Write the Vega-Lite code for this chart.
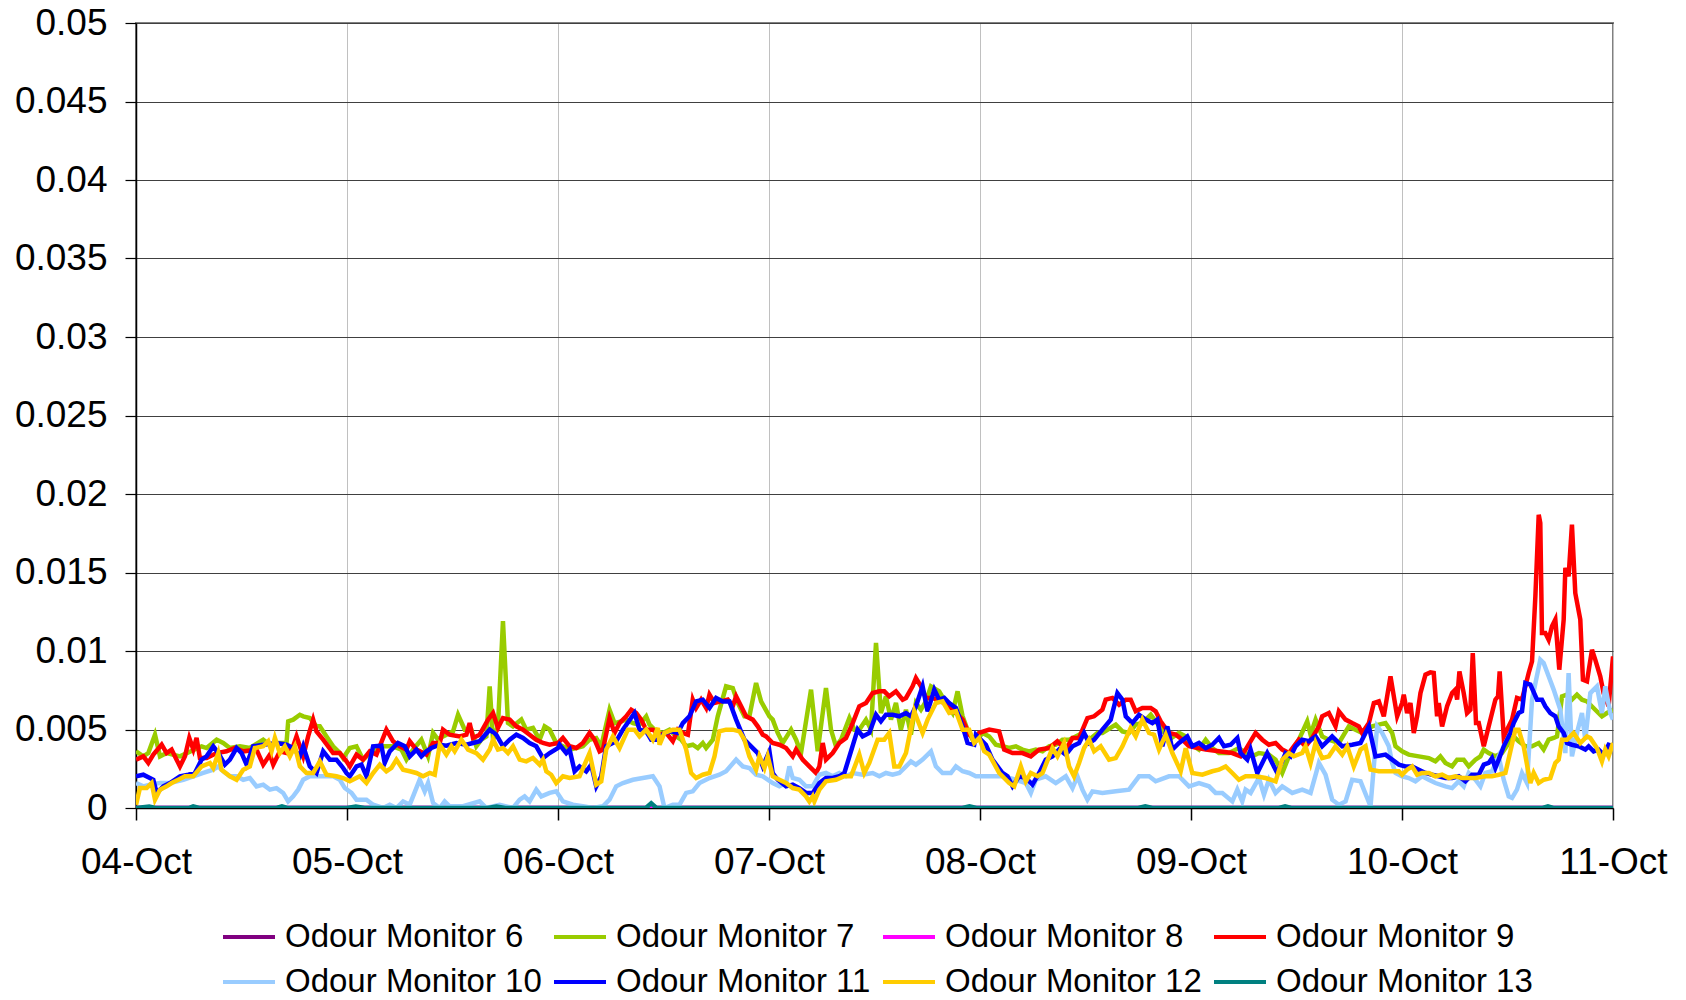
{
  "$schema": "https://vega.github.io/schema/vega-lite/v6.json",
  "width": 1477,
  "height": 785,
  "autosize": {"type": "none"},
  "padding": {"left": 136, "top": 23, "right": 73, "bottom": 192},
  "background": "white",
  "config": {"font": "Liberation Sans", "view": {"stroke": "#808080", "strokeWidth": 2}},
  "data": {"values": [
{"s":"Odour Monitor 6","h":0,"v":0},{"s":"Odour Monitor 6","h":168,"v":0},
{"s":"Odour Monitor 7","h":0,"v":0.00361},{"s":"Odour Monitor 7","h":0.83,"v":0.00329},{"s":"Odour Monitor 7","h":1.4,"v":0.0035},{"s":"Odour Monitor 7","h":2.16,"v":0.00467},{"s":"Odour Monitor 7","h":2.73,"v":0.00329},{"s":"Odour Monitor 7","h":3.48,"v":0.0035},{"s":"Odour Monitor 7","h":5,"v":0.00329},{"s":"Odour Monitor 7","h":7.46,"v":0.00393},{"s":"Odour Monitor 7","h":8.03,"v":0.00382},{"s":"Odour Monitor 7","h":9.17,"v":0.00435},{"s":"Odour Monitor 7","h":9.92,"v":0.00414},{"s":"Odour Monitor 7","h":10.68,"v":0.00382},{"s":"Odour Monitor 7","h":11.82,"v":0.00393},{"s":"Odour Monitor 7","h":12.95,"v":0.00382},{"s":"Odour Monitor 7","h":14.47,"v":0.00435},{"s":"Odour Monitor 7","h":15.23,"v":0.00403},{"s":"Odour Monitor 7","h":15.98,"v":0.00414},{"s":"Odour Monitor 7","h":17.12,"v":0.00414},{"s":"Odour Monitor 7","h":17.31,"v":0.00552},{"s":"Odour Monitor 7","h":17.88,"v":0.00563},{"s":"Odour Monitor 7","h":18.64,"v":0.00594},{"s":"Odour Monitor 7","h":19.02,"v":0.00584},{"s":"Odour Monitor 7","h":19.77,"v":0.00573},{"s":"Odour Monitor 7","h":20.53,"v":0.0052},{"s":"Odour Monitor 7","h":20.91,"v":0.0052},{"s":"Odour Monitor 7","h":21.67,"v":0.00456},{"s":"Odour Monitor 7","h":22.42,"v":0.00393},{"s":"Odour Monitor 7","h":23.18,"v":0.0035},{"s":"Odour Monitor 7","h":23.56,"v":0.00318},
{"s":"Odour Monitor 7","h":24.32,"v":0.00382},{"s":"Odour Monitor 7","h":25.08,"v":0.00393},{"s":"Odour Monitor 7","h":25.83,"v":0.00308},{"s":"Odour Monitor 7","h":26.59,"v":0.0035},{"s":"Odour Monitor 7","h":28.11,"v":0.00393},{"s":"Odour Monitor 7","h":29.24,"v":0.00393},{"s":"Odour Monitor 7","h":30.19,"v":0.00372},{"s":"Odour Monitor 7","h":30.76,"v":0.00308},{"s":"Odour Monitor 7","h":31.52,"v":0.00372},{"s":"Odour Monitor 7","h":32.46,"v":0.00435},{"s":"Odour Monitor 7","h":33.22,"v":0.00329},{"s":"Odour Monitor 7","h":33.79,"v":0.00478},{"s":"Odour Monitor 7","h":34.36,"v":0.00435},{"s":"Odour Monitor 7","h":34.92,"v":0.00456},{"s":"Odour Monitor 7","h":36.06,"v":0.00488},{"s":"Odour Monitor 7","h":36.63,"v":0.00594},{"s":"Odour Monitor 7","h":37.39,"v":0.00499},{"s":"Odour Monitor 7","h":38.14,"v":0.00499},{"s":"Odour Monitor 7","h":38.71,"v":0.00393},{"s":"Odour Monitor 7","h":39.28,"v":0.00435},{"s":"Odour Monitor 7","h":39.85,"v":0.00456},{"s":"Odour Monitor 7","h":40.23,"v":0.00775},{"s":"Odour Monitor 7","h":40.61,"v":0.00435},{"s":"Odour Monitor 7","h":41.17,"v":0.0052},{"s":"Odour Monitor 7","h":41.74,"v":0.0119},{"s":"Odour Monitor 7","h":42.31,"v":0.00541},{"s":"Odour Monitor 7","h":42.88,"v":0.0052},{"s":"Odour Monitor 7","h":43.83,"v":0.00563},{"s":"Odour Monitor 7","h":44.39,"v":0.00499},{"s":"Odour Monitor 7","h":45.15,"v":0.0051},{"s":"Odour Monitor 7","h":45.91,"v":0.00435},{"s":"Odour Monitor 7","h":46.48,"v":0.0052},{"s":"Odour Monitor 7","h":47.05,"v":0.00499},{"s":"Odour Monitor 7","h":47.8,"v":0.00414},
{"s":"Odour Monitor 7","h":48.56,"v":0.00393},{"s":"Odour Monitor 7","h":49.32,"v":0.00372},{"s":"Odour Monitor 7","h":50.08,"v":0.00382},{"s":"Odour Monitor 7","h":50.83,"v":0.00393},{"s":"Odour Monitor 7","h":51.59,"v":0.00435},{"s":"Odour Monitor 7","h":52.35,"v":0.00446},{"s":"Odour Monitor 7","h":52.92,"v":0.00393},{"s":"Odour Monitor 7","h":53.86,"v":0.00626},{"s":"Odour Monitor 7","h":54.43,"v":0.00541},{"s":"Odour Monitor 7","h":55.19,"v":0.00552},{"s":"Odour Monitor 7","h":55.76,"v":0.00563},{"s":"Odour Monitor 7","h":56.52,"v":0.00541},{"s":"Odour Monitor 7","h":57.27,"v":0.00531},{"s":"Odour Monitor 7","h":58.03,"v":0.00584},{"s":"Odour Monitor 7","h":58.41,"v":0.00531},{"s":"Odour Monitor 7","h":59.17,"v":0.00488},{"s":"Odour Monitor 7","h":59.92,"v":0.00478},{"s":"Odour Monitor 7","h":60.68,"v":0.00499},{"s":"Odour Monitor 7","h":61.44,"v":0.00456},{"s":"Odour Monitor 7","h":62.01,"v":0.00435},{"s":"Odour Monitor 7","h":62.58,"v":0.00393},{"s":"Odour Monitor 7","h":63.33,"v":0.00403},{"s":"Odour Monitor 7","h":63.9,"v":0.00382},{"s":"Odour Monitor 7","h":64.47,"v":0.00414},{"s":"Odour Monitor 7","h":64.85,"v":0.00382},{"s":"Odour Monitor 7","h":65.61,"v":0.00435},{"s":"Odour Monitor 7","h":66.17,"v":0.00584},{"s":"Odour Monitor 7","h":67.12,"v":0.00775},{"s":"Odour Monitor 7","h":67.88,"v":0.00764},{"s":"Odour Monitor 7","h":68.45,"v":0.00669},{"s":"Odour Monitor 7","h":69.2,"v":0.00584},{"s":"Odour Monitor 7","h":69.77,"v":0.00584},{"s":"Odour Monitor 7","h":70.53,"v":0.00796},{"s":"Odour Monitor 7","h":71.1,"v":0.00679},
{"s":"Odour Monitor 7","h":72.05,"v":0.00584},{"s":"Odour Monitor 7","h":72.42,"v":0.00563},{"s":"Odour Monitor 7","h":72.99,"v":0.00478},{"s":"Odour Monitor 7","h":73.56,"v":0.00414},{"s":"Odour Monitor 7","h":74.51,"v":0.00499},{"s":"Odour Monitor 7","h":75.08,"v":0.00435},{"s":"Odour Monitor 7","h":75.64,"v":0.0035},{"s":"Odour Monitor 7","h":76.78,"v":0.00754},{"s":"Odour Monitor 7","h":77.54,"v":0.00361},{"s":"Odour Monitor 7","h":78.48,"v":0.00764},{"s":"Odour Monitor 7","h":79.05,"v":0.00499},{"s":"Odour Monitor 7","h":79.62,"v":0.00393},{"s":"Odour Monitor 7","h":80.19,"v":0.00435},{"s":"Odour Monitor 7","h":81.14,"v":0.00573},{"s":"Odour Monitor 7","h":81.7,"v":0.00499},{"s":"Odour Monitor 7","h":82.27,"v":0.00499},{"s":"Odour Monitor 7","h":83.03,"v":0.00563},{"s":"Odour Monitor 7","h":83.6,"v":0.00499},{"s":"Odour Monitor 7","h":84.17,"v":0.01051},{"s":"Odour Monitor 7","h":84.73,"v":0.00605},{"s":"Odour Monitor 7","h":85.3,"v":0.00711},{"s":"Odour Monitor 7","h":85.87,"v":0.00563},{"s":"Odour Monitor 7","h":86.44,"v":0.00669},{"s":"Odour Monitor 7","h":87,"v":0.00499},{"s":"Odour Monitor 7","h":87.58,"v":0.00626},{"s":"Odour Monitor 7","h":88.14,"v":0.00467},{"s":"Odour Monitor 7","h":88.71,"v":0.00669},{"s":"Odour Monitor 7","h":89.28,"v":0.00626},{"s":"Odour Monitor 7","h":89.85,"v":0.00679},{"s":"Odour Monitor 7","h":90.42,"v":0.00775},{"s":"Odour Monitor 7","h":91.36,"v":0.00743},{"s":"Odour Monitor 7","h":92.12,"v":0.00669},{"s":"Odour Monitor 7","h":92.88,"v":0.00605},{"s":"Odour Monitor 7","h":93.45,"v":0.00743},{"s":"Odour Monitor 7","h":94.02,"v":0.00584},{"s":"Odour Monitor 7","h":94.58,"v":0.00499},{"s":"Odour Monitor 7","h":95.34,"v":0.00414},
{"s":"Odour Monitor 7","h":96.29,"v":0.00478},{"s":"Odour Monitor 7","h":97.05,"v":0.00456},{"s":"Odour Monitor 7","h":97.8,"v":0.00403},{"s":"Odour Monitor 7","h":98.56,"v":0.00393},{"s":"Odour Monitor 7","h":99.32,"v":0.00382},{"s":"Odour Monitor 7","h":100.08,"v":0.00393},{"s":"Odour Monitor 7","h":100.83,"v":0.00372},{"s":"Odour Monitor 7","h":101.59,"v":0.00361},{"s":"Odour Monitor 7","h":102.35,"v":0.00372},{"s":"Odour Monitor 7","h":103.11,"v":0.00361},{"s":"Odour Monitor 7","h":103.86,"v":0.00393},{"s":"Odour Monitor 7","h":104.62,"v":0.00403},{"s":"Odour Monitor 7","h":105.38,"v":0.00435},{"s":"Odour Monitor 7","h":106.14,"v":0.00435},{"s":"Odour Monitor 7","h":106.89,"v":0.00456},{"s":"Odour Monitor 7","h":107.65,"v":0.00478},{"s":"Odour Monitor 7","h":108.41,"v":0.00435},{"s":"Odour Monitor 7","h":109.36,"v":0.00478},{"s":"Odour Monitor 7","h":109.92,"v":0.00478},{"s":"Odour Monitor 7","h":111.44,"v":0.00531},{"s":"Odour Monitor 7","h":112.2,"v":0.00488},{"s":"Odour Monitor 7","h":112.95,"v":0.00478},{"s":"Odour Monitor 7","h":113.71,"v":0.00531},{"s":"Odour Monitor 7","h":114.47,"v":0.00541},{"s":"Odour Monitor 7","h":115.42,"v":0.00594},{"s":"Odour Monitor 7","h":115.98,"v":0.00552},{"s":"Odour Monitor 7","h":116.74,"v":0.00499},{"s":"Odour Monitor 7","h":117.5,"v":0.00435},{"s":"Odour Monitor 7","h":118.64,"v":0.00478},{"s":"Odour Monitor 7","h":119.39,"v":0.00456},
{"s":"Odour Monitor 7","h":119.77,"v":0.00414},{"s":"Odour Monitor 7","h":120.91,"v":0.00372},{"s":"Odour Monitor 7","h":121.67,"v":0.00435},{"s":"Odour Monitor 7","h":122.42,"v":0.00382},{"s":"Odour Monitor 7","h":123.18,"v":0.0035},{"s":"Odour Monitor 7","h":124.32,"v":0.0035},{"s":"Odour Monitor 7","h":125.45,"v":0.00382},{"s":"Odour Monitor 7","h":126.21,"v":0.0035},{"s":"Odour Monitor 7","h":126.97,"v":0.00329},{"s":"Odour Monitor 7","h":127.73,"v":0.0035},{"s":"Odour Monitor 7","h":128.86,"v":0.0034},{"s":"Odour Monitor 7","h":129.62,"v":0.00308},{"s":"Odour Monitor 7","h":130.38,"v":0.00223},{"s":"Odour Monitor 7","h":131.14,"v":0.00329},{"s":"Odour Monitor 7","h":132.27,"v":0.00435},{"s":"Odour Monitor 7","h":133.22,"v":0.00552},{"s":"Odour Monitor 7","h":133.6,"v":0.00467},{"s":"Odour Monitor 7","h":134.17,"v":0.00563},{"s":"Odour Monitor 7","h":134.92,"v":0.00456},{"s":"Odour Monitor 7","h":135.68,"v":0.00435},{"s":"Odour Monitor 7","h":136.82,"v":0.00414},{"s":"Odour Monitor 7","h":137.95,"v":0.0052},{"s":"Odour Monitor 7","h":138.71,"v":0.00499},{"s":"Odour Monitor 7","h":139.47,"v":0.00478},{"s":"Odour Monitor 7","h":140.61,"v":0.0052},{"s":"Odour Monitor 7","h":141.36,"v":0.00531},{"s":"Odour Monitor 7","h":142.12,"v":0.00541},{"s":"Odour Monitor 7","h":142.88,"v":0.00478},
{"s":"Odour Monitor 7","h":143.26,"v":0.00393},{"s":"Odour Monitor 7","h":144.01,"v":0.00361},{"s":"Odour Monitor 7","h":144.77,"v":0.0034},{"s":"Odour Monitor 7","h":145.91,"v":0.00329},{"s":"Odour Monitor 7","h":147.05,"v":0.00318},{"s":"Odour Monitor 7","h":147.8,"v":0.00297},{"s":"Odour Monitor 7","h":148.37,"v":0.00329},{"s":"Odour Monitor 7","h":148.94,"v":0.00287},{"s":"Odour Monitor 7","h":149.7,"v":0.00265},{"s":"Odour Monitor 7","h":150.27,"v":0.00308},{"s":"Odour Monitor 7","h":151.02,"v":0.00308},{"s":"Odour Monitor 7","h":151.59,"v":0.00265},{"s":"Odour Monitor 7","h":152.35,"v":0.00308},{"s":"Odour Monitor 7","h":152.92,"v":0.00329},{"s":"Odour Monitor 7","h":153.3,"v":0.00372},{"s":"Odour Monitor 7","h":153.86,"v":0.0035},{"s":"Odour Monitor 7","h":154.62,"v":0.00329},{"s":"Odour Monitor 7","h":155.38,"v":0.0035},{"s":"Odour Monitor 7","h":156.14,"v":0.00414},{"s":"Odour Monitor 7","h":156.7,"v":0.00456},{"s":"Odour Monitor 7","h":157.27,"v":0.00425},{"s":"Odour Monitor 7","h":158.03,"v":0.00393},{"s":"Odour Monitor 7","h":158.79,"v":0.00393},{"s":"Odour Monitor 7","h":159.55,"v":0.00414},{"s":"Odour Monitor 7","h":160.11,"v":0.00372},{"s":"Odour Monitor 7","h":160.68,"v":0.00435},{"s":"Odour Monitor 7","h":161.25,"v":0.00446},{"s":"Odour Monitor 7","h":161.63,"v":0.00456},{"s":"Odour Monitor 7","h":162.2,"v":0.00711},{"s":"Odour Monitor 7","h":162.77,"v":0.00722},{"s":"Odour Monitor 7","h":163.33,"v":0.0069},{"s":"Odour Monitor 7","h":163.9,"v":0.00722},{"s":"Odour Monitor 7","h":164.47,"v":0.0069},{"s":"Odour Monitor 7","h":165.04,"v":0.00679},{"s":"Odour Monitor 7","h":165.98,"v":0.00626},{"s":"Odour Monitor 7","h":166.74,"v":0.00584},{"s":"Odour Monitor 7","h":167.31,"v":0.00605},{"s":"Odour Monitor 7","h":168,"v":0.00626},
{"s":"Odour Monitor 8","h":0,"v":0},{"s":"Odour Monitor 8","h":168,"v":0},
{"s":"Odour Monitor 9","h":0,"v":0.00308},{"s":"Odour Monitor 9","h":0.83,"v":0.00329},{"s":"Odour Monitor 9","h":1.4,"v":0.00287},{"s":"Odour Monitor 9","h":1.97,"v":0.0034},{"s":"Odour Monitor 9","h":2.92,"v":0.00403},{"s":"Odour Monitor 9","h":3.48,"v":0.0035},{"s":"Odour Monitor 9","h":4.05,"v":0.00372},{"s":"Odour Monitor 9","h":4.62,"v":0.00308},{"s":"Odour Monitor 9","h":5,"v":0.00265},{"s":"Odour Monitor 9","h":5.57,"v":0.00329},{"s":"Odour Monitor 9","h":6.06,"v":0.00446},{"s":"Odour Monitor 9","h":6.52,"v":0.00372},{"s":"Odour Monitor 9","h":6.89,"v":0.00446},{"s":"Odour Monitor 9","h":7.27,"v":0.00318},{"s":"Odour Monitor 9","h":8.03,"v":0.00318},{"s":"Odour Monitor 9","h":9.17,"v":0.0035},{"s":"Odour Monitor 9","h":10.3,"v":0.00361},{"s":"Odour Monitor 9","h":11.25,"v":0.00382},{"s":"Odour Monitor 9","h":12.2,"v":0.00361},{"s":"Odour Monitor 9","h":13.71,"v":0.00372},{"s":"Odour Monitor 9","h":14.47,"v":0.00276},{"s":"Odour Monitor 9","h":15.23,"v":0.0034},{"s":"Odour Monitor 9","h":15.61,"v":0.00276},{"s":"Odour Monitor 9","h":16.36,"v":0.00361},{"s":"Odour Monitor 9","h":17.12,"v":0.0035},{"s":"Odour Monitor 9","h":17.88,"v":0.00393},{"s":"Odour Monitor 9","h":18.26,"v":0.00456},{"s":"Odour Monitor 9","h":19.02,"v":0.00329},{"s":"Odour Monitor 9","h":19.58,"v":0.00456},{"s":"Odour Monitor 9","h":20.15,"v":0.00563},{"s":"Odour Monitor 9","h":20.53,"v":0.00488},{"s":"Odour Monitor 9","h":21.29,"v":0.00435},{"s":"Odour Monitor 9","h":22.42,"v":0.0035},{"s":"Odour Monitor 9","h":23.18,"v":0.0035},{"s":"Odour Monitor 9","h":23.94,"v":0.00297},
{"s":"Odour Monitor 9","h":24.32,"v":0.00265},{"s":"Odour Monitor 9","h":25.08,"v":0.0034},{"s":"Odour Monitor 9","h":25.83,"v":0.00308},{"s":"Odour Monitor 9","h":26.59,"v":0.00361},{"s":"Odour Monitor 9","h":27.35,"v":0.0034},{"s":"Odour Monitor 9","h":28.48,"v":0.00499},{"s":"Odour Monitor 9","h":29.24,"v":0.00425},{"s":"Odour Monitor 9","h":30,"v":0.00393},{"s":"Odour Monitor 9","h":30.76,"v":0.00372},{"s":"Odour Monitor 9","h":31.14,"v":0.00425},{"s":"Odour Monitor 9","h":31.89,"v":0.00372},{"s":"Odour Monitor 9","h":33.03,"v":0.0034},{"s":"Odour Monitor 9","h":33.79,"v":0.00414},{"s":"Odour Monitor 9","h":34.55,"v":0.00414},{"s":"Odour Monitor 9","h":34.92,"v":0.00499},{"s":"Odour Monitor 9","h":35.68,"v":0.00467},{"s":"Odour Monitor 9","h":36.82,"v":0.00456},{"s":"Odour Monitor 9","h":37.58,"v":0.00467},{"s":"Odour Monitor 9","h":37.95,"v":0.00541},{"s":"Odour Monitor 9","h":38.33,"v":0.00446},{"s":"Odour Monitor 9","h":39.09,"v":0.00467},{"s":"Odour Monitor 9","h":40.04,"v":0.00563},{"s":"Odour Monitor 9","h":40.61,"v":0.00605},{"s":"Odour Monitor 9","h":41.17,"v":0.0051},{"s":"Odour Monitor 9","h":41.74,"v":0.00573},{"s":"Odour Monitor 9","h":42.5,"v":0.00563},{"s":"Odour Monitor 9","h":43.26,"v":0.0052},{"s":"Odour Monitor 9","h":44.02,"v":0.00499},{"s":"Odour Monitor 9","h":44.77,"v":0.00467},{"s":"Odour Monitor 9","h":45.53,"v":0.00435},{"s":"Odour Monitor 9","h":46.29,"v":0.00414},{"s":"Odour Monitor 9","h":47.05,"v":0.00403},{"s":"Odour Monitor 9","h":48,"v":0.00414},
{"s":"Odour Monitor 9","h":48.56,"v":0.00446},{"s":"Odour Monitor 9","h":49.32,"v":0.00393},{"s":"Odour Monitor 9","h":50.08,"v":0.00382},{"s":"Odour Monitor 9","h":50.83,"v":0.00414},{"s":"Odour Monitor 9","h":51.59,"v":0.00478},{"s":"Odour Monitor 9","h":52.16,"v":0.00435},{"s":"Odour Monitor 9","h":52.73,"v":0.00361},{"s":"Odour Monitor 9","h":53.11,"v":0.00372},{"s":"Odour Monitor 9","h":53.86,"v":0.00573},{"s":"Odour Monitor 9","h":54.43,"v":0.00478},{"s":"Odour Monitor 9","h":55,"v":0.00541},{"s":"Odour Monitor 9","h":55.76,"v":0.00584},{"s":"Odour Monitor 9","h":56.33,"v":0.00626},{"s":"Odour Monitor 9","h":56.89,"v":0.00605},{"s":"Odour Monitor 9","h":57.46,"v":0.00563},{"s":"Odour Monitor 9","h":58.03,"v":0.00499},{"s":"Odour Monitor 9","h":58.79,"v":0.00499},{"s":"Odour Monitor 9","h":59.55,"v":0.00467},{"s":"Odour Monitor 9","h":60.3,"v":0.00478},{"s":"Odour Monitor 9","h":61.06,"v":0.00425},{"s":"Odour Monitor 9","h":61.63,"v":0.00499},{"s":"Odour Monitor 9","h":62.2,"v":0.00478},{"s":"Odour Monitor 9","h":62.77,"v":0.00467},{"s":"Odour Monitor 9","h":63.33,"v":0.0069},{"s":"Odour Monitor 9","h":63.71,"v":0.00637},{"s":"Odour Monitor 9","h":64.28,"v":0.0069},{"s":"Odour Monitor 9","h":64.85,"v":0.00637},{"s":"Odour Monitor 9","h":65.23,"v":0.00722},{"s":"Odour Monitor 9","h":65.8,"v":0.00669},{"s":"Odour Monitor 9","h":66.55,"v":0.00679},{"s":"Odour Monitor 9","h":67.31,"v":0.0069},{"s":"Odour Monitor 9","h":67.88,"v":0.00648},{"s":"Odour Monitor 9","h":68.26,"v":0.00711},{"s":"Odour Monitor 9","h":68.83,"v":0.00648},{"s":"Odour Monitor 9","h":69.39,"v":0.00584},{"s":"Odour Monitor 9","h":70.15,"v":0.00563},{"s":"Odour Monitor 9","h":70.72,"v":0.0052},{"s":"Odour Monitor 9","h":71.29,"v":0.00467},
{"s":"Odour Monitor 9","h":71.67,"v":0.00456},{"s":"Odour Monitor 9","h":72.42,"v":0.00414},{"s":"Odour Monitor 9","h":73.18,"v":0.00403},{"s":"Odour Monitor 9","h":73.94,"v":0.00382},{"s":"Odour Monitor 9","h":74.7,"v":0.00329},{"s":"Odour Monitor 9","h":75.08,"v":0.00372},{"s":"Odour Monitor 9","h":75.83,"v":0.00308},{"s":"Odour Monitor 9","h":76.59,"v":0.00265},{"s":"Odour Monitor 9","h":77.35,"v":0.00223},{"s":"Odour Monitor 9","h":77.73,"v":0.00265},{"s":"Odour Monitor 9","h":78.11,"v":0.00414},{"s":"Odour Monitor 9","h":78.48,"v":0.00308},{"s":"Odour Monitor 9","h":79.24,"v":0.0035},{"s":"Odour Monitor 9","h":80,"v":0.00414},{"s":"Odour Monitor 9","h":80.76,"v":0.00446},{"s":"Odour Monitor 9","h":81.52,"v":0.00541},{"s":"Odour Monitor 9","h":82.27,"v":0.00648},{"s":"Odour Monitor 9","h":83.03,"v":0.00669},{"s":"Odour Monitor 9","h":83.79,"v":0.00732},{"s":"Odour Monitor 9","h":84.55,"v":0.00743},{"s":"Odour Monitor 9","h":85.11,"v":0.00743},{"s":"Odour Monitor 9","h":85.68,"v":0.00711},{"s":"Odour Monitor 9","h":86.44,"v":0.00743},{"s":"Odour Monitor 9","h":87.2,"v":0.0069},{"s":"Odour Monitor 9","h":87.58,"v":0.00701},{"s":"Odour Monitor 9","h":88.33,"v":0.00775},{"s":"Odour Monitor 9","h":88.71,"v":0.00828},{"s":"Odour Monitor 9","h":89.28,"v":0.00775},{"s":"Odour Monitor 9","h":89.85,"v":0.00701},{"s":"Odour Monitor 9","h":90.61,"v":0.00701},{"s":"Odour Monitor 9","h":91.55,"v":0.00679},{"s":"Odour Monitor 9","h":92.5,"v":0.00648},{"s":"Odour Monitor 9","h":93.26,"v":0.00605},{"s":"Odour Monitor 9","h":94.02,"v":0.00563},{"s":"Odour Monitor 9","h":94.77,"v":0.00467},{"s":"Odour Monitor 9","h":95.53,"v":0.00435},
{"s":"Odour Monitor 9","h":95.9,"v":0.00478},{"s":"Odour Monitor 9","h":97.05,"v":0.00499},{"s":"Odour Monitor 9","h":98.18,"v":0.00488},{"s":"Odour Monitor 9","h":98.75,"v":0.00372},{"s":"Odour Monitor 9","h":99.7,"v":0.0035},{"s":"Odour Monitor 9","h":100.83,"v":0.0035},{"s":"Odour Monitor 9","h":101.78,"v":0.00329},{"s":"Odour Monitor 9","h":102.73,"v":0.00372},{"s":"Odour Monitor 9","h":103.86,"v":0.00382},{"s":"Odour Monitor 9","h":104.8,"v":0.00425},{"s":"Odour Monitor 9","h":105.76,"v":0.00372},{"s":"Odour Monitor 9","h":106.52,"v":0.00446},{"s":"Odour Monitor 9","h":107.27,"v":0.00446},{"s":"Odour Monitor 9","h":108.22,"v":0.00573},{"s":"Odour Monitor 9","h":108.98,"v":0.00584},{"s":"Odour Monitor 9","h":109.92,"v":0.00626},{"s":"Odour Monitor 9","h":110.3,"v":0.0069},{"s":"Odour Monitor 9","h":111.06,"v":0.00701},{"s":"Odour Monitor 9","h":111.82,"v":0.00658},{"s":"Odour Monitor 9","h":112.58,"v":0.0069},{"s":"Odour Monitor 9","h":113.14,"v":0.0069},{"s":"Odour Monitor 9","h":113.71,"v":0.00616},{"s":"Odour Monitor 9","h":114.47,"v":0.00637},{"s":"Odour Monitor 9","h":115.42,"v":0.00637},{"s":"Odour Monitor 9","h":115.98,"v":0.00616},{"s":"Odour Monitor 9","h":116.55,"v":0.00552},{"s":"Odour Monitor 9","h":117.5,"v":0.00478},{"s":"Odour Monitor 9","h":118.26,"v":0.00467},{"s":"Odour Monitor 9","h":119.02,"v":0.00435},{"s":"Odour Monitor 9","h":119.77,"v":0.00393},
{"s":"Odour Monitor 9","h":121.67,"v":0.00372},{"s":"Odour Monitor 9","h":123.18,"v":0.00361},{"s":"Odour Monitor 9","h":124.7,"v":0.0035},{"s":"Odour Monitor 9","h":125.64,"v":0.00329},{"s":"Odour Monitor 9","h":126.21,"v":0.00372},{"s":"Odour Monitor 9","h":127.35,"v":0.00478},{"s":"Odour Monitor 9","h":128.11,"v":0.00435},{"s":"Odour Monitor 9","h":128.86,"v":0.00403},{"s":"Odour Monitor 9","h":129.62,"v":0.00414},{"s":"Odour Monitor 9","h":130.38,"v":0.00372},{"s":"Odour Monitor 9","h":131.14,"v":0.0035},{"s":"Odour Monitor 9","h":131.7,"v":0.00393},{"s":"Odour Monitor 9","h":132.27,"v":0.00435},{"s":"Odour Monitor 9","h":133.03,"v":0.00393},{"s":"Odour Monitor 9","h":133.79,"v":0.00446},{"s":"Odour Monitor 9","h":134.55,"v":0.0052},{"s":"Odour Monitor 9","h":134.92,"v":0.00584},{"s":"Odour Monitor 9","h":135.68,"v":0.00605},{"s":"Odour Monitor 9","h":136.44,"v":0.0052},{"s":"Odour Monitor 9","h":136.82,"v":0.00616},{"s":"Odour Monitor 9","h":137.58,"v":0.00563},{"s":"Odour Monitor 9","h":138.33,"v":0.00541},{"s":"Odour Monitor 9","h":139.09,"v":0.0052},{"s":"Odour Monitor 9","h":139.47,"v":0.00478},{"s":"Odour Monitor 9","h":140.23,"v":0.00541},{"s":"Odour Monitor 9","h":140.8,"v":0.00669},{"s":"Odour Monitor 9","h":141.36,"v":0.00679},{"s":"Odour Monitor 9","h":141.93,"v":0.00584},{"s":"Odour Monitor 9","h":142.69,"v":0.00839},{"s":"Odour Monitor 9","h":143.45,"v":0.00584},
{"s":"Odour Monitor 9","h":144.01,"v":0.00669},{"s":"Odour Monitor 9","h":144.2,"v":0.00722},{"s":"Odour Monitor 9","h":144.58,"v":0.00605},{"s":"Odour Monitor 9","h":144.96,"v":0.00669},{"s":"Odour Monitor 9","h":145.34,"v":0.00478},{"s":"Odour Monitor 9","h":145.72,"v":0.00584},{"s":"Odour Monitor 9","h":146.1,"v":0.00732},{"s":"Odour Monitor 9","h":146.67,"v":0.00849},{"s":"Odour Monitor 9","h":147.23,"v":0.00864},{"s":"Odour Monitor 9","h":147.61,"v":0.0086},{"s":"Odour Monitor 9","h":147.99,"v":0.00584},{"s":"Odour Monitor 9","h":148.18,"v":0.00669},{"s":"Odour Monitor 9","h":148.56,"v":0.0052},{"s":"Odour Monitor 9","h":149.13,"v":0.00648},{"s":"Odour Monitor 9","h":149.7,"v":0.00732},{"s":"Odour Monitor 9","h":150.08,"v":0.00754},{"s":"Odour Monitor 9","h":150.27,"v":0.0069},{"s":"Odour Monitor 9","h":150.53,"v":0.0087},{"s":"Odour Monitor 9","h":151.02,"v":0.00732},{"s":"Odour Monitor 9","h":151.4,"v":0.00605},{"s":"Odour Monitor 9","h":151.78,"v":0.00626},{"s":"Odour Monitor 9","h":152.05,"v":0.00987},{"s":"Odour Monitor 9","h":152.42,"v":0.00541},{"s":"Odour Monitor 9","h":152.73,"v":0.00541},{"s":"Odour Monitor 9","h":153.3,"v":0.00393},{"s":"Odour Monitor 9","h":153.86,"v":0.0052},{"s":"Odour Monitor 9","h":154.24,"v":0.00605},{"s":"Odour Monitor 9","h":154.62,"v":0.0069},{"s":"Odour Monitor 9","h":154.92,"v":0.00711},{"s":"Odour Monitor 9","h":155.11,"v":0.0087},{"s":"Odour Monitor 9","h":155.57,"v":0.00456},{"s":"Odour Monitor 9","h":156.52,"v":0.00563},{"s":"Odour Monitor 9","h":157.08,"v":0.00701},{"s":"Odour Monitor 9","h":157.65,"v":0.0069},{"s":"Odour Monitor 9","h":158.41,"v":0.0086},{"s":"Odour Monitor 9","h":158.79,"v":0.00934},{"s":"Odour Monitor 9","h":159.17,"v":0.01348},{"s":"Odour Monitor 9","h":159.55,"v":0.01868},{"s":"Odour Monitor 9","h":159.73,"v":0.01815},{"s":"Odour Monitor 9","h":159.92,"v":0.01115},{"s":"Odour Monitor 9","h":160.3,"v":0.01115},{"s":"Odour Monitor 9","h":160.68,"v":0.01072},{"s":"Odour Monitor 9","h":161.06,"v":0.01157},{"s":"Odour Monitor 9","h":161.44,"v":0.012},{"s":"Odour Monitor 9","h":161.89,"v":0.00881},{"s":"Odour Monitor 9","h":162.39,"v":0.012},{"s":"Odour Monitor 9","h":162.58,"v":0.01529},{"s":"Odour Monitor 9","h":162.95,"v":0.01476},{"s":"Odour Monitor 9","h":163.33,"v":0.01805},{"s":"Odour Monitor 9","h":163.71,"v":0.01369},{"s":"Odour Monitor 9","h":164.28,"v":0.012},{"s":"Odour Monitor 9","h":164.58,"v":0.00817},{"s":"Odour Monitor 9","h":165.04,"v":0.00807},{"s":"Odour Monitor 9","h":165.61,"v":0.01008},{"s":"Odour Monitor 9","h":165.98,"v":0.00945},{"s":"Odour Monitor 9","h":166.55,"v":0.00839},{"s":"Odour Monitor 9","h":166.93,"v":0.00732},{"s":"Odour Monitor 9","h":167.5,"v":0.00648},{"s":"Odour Monitor 9","h":168,"v":0.00966},
{"s":"Odour Monitor 10","h":0,"v":0.00159},{"s":"Odour Monitor 10","h":0.83,"v":0.00138},{"s":"Odour Monitor 10","h":1.59,"v":0.00149},{"s":"Odour Monitor 10","h":2.73,"v":0.00159},{"s":"Odour Monitor 10","h":3.86,"v":0.00159},{"s":"Odour Monitor 10","h":5.38,"v":0.0018},{"s":"Odour Monitor 10","h":6.52,"v":0.00202},{"s":"Odour Monitor 10","h":7.65,"v":0.00223},{"s":"Odour Monitor 10","h":8.79,"v":0.00244},{"s":"Odour Monitor 10","h":9.36,"v":0.00265},{"s":"Odour Monitor 10","h":9.92,"v":0.00234},{"s":"Odour Monitor 10","h":10.68,"v":0.00202},{"s":"Odour Monitor 10","h":11.44,"v":0.00202},{"s":"Odour Monitor 10","h":12.2,"v":0.0018},{"s":"Odour Monitor 10","h":12.95,"v":0.00191},{"s":"Odour Monitor 10","h":13.71,"v":0.00138},{"s":"Odour Monitor 10","h":14.47,"v":0.00149},{"s":"Odour Monitor 10","h":15.23,"v":0.00117},{"s":"Odour Monitor 10","h":15.98,"v":0.00127},{"s":"Odour Monitor 10","h":16.74,"v":0.00096},{"s":"Odour Monitor 10","h":17.31,"v":0.00042},{"s":"Odour Monitor 10","h":17.88,"v":0.00074},{"s":"Odour Monitor 10","h":18.45,"v":0.00117},{"s":"Odour Monitor 10","h":19.02,"v":0.0018},{"s":"Odour Monitor 10","h":19.77,"v":0.00202},{"s":"Odour Monitor 10","h":20.91,"v":0.00202},{"s":"Odour Monitor 10","h":22.42,"v":0.00202},{"s":"Odour Monitor 10","h":23.18,"v":0.0018},{"s":"Odour Monitor 10","h":23.75,"v":0.00127},
{"s":"Odour Monitor 10","h":24.51,"v":0.00096},{"s":"Odour Monitor 10","h":25.08,"v":0.00053},{"s":"Odour Monitor 10","h":26.21,"v":0.00053},{"s":"Odour Monitor 10","h":26.97,"v":0.00021},{"s":"Odour Monitor 10","h":28.11,"v":0},{"s":"Odour Monitor 10","h":28.86,"v":0.00021},{"s":"Odour Monitor 10","h":29.62,"v":0},{"s":"Odour Monitor 10","h":30.38,"v":0.00042},{"s":"Odour Monitor 10","h":31.14,"v":0.00021},{"s":"Odour Monitor 10","h":32.27,"v":0.0018},{"s":"Odour Monitor 10","h":32.84,"v":0.00106},{"s":"Odour Monitor 10","h":33.22,"v":0.00159},{"s":"Odour Monitor 10","h":33.79,"v":0.00032},{"s":"Odour Monitor 10","h":34.55,"v":0},{"s":"Odour Monitor 10","h":35.11,"v":0.00042},{"s":"Odour Monitor 10","h":35.68,"v":0.00011},{"s":"Odour Monitor 10","h":37.2,"v":0.00011},{"s":"Odour Monitor 10","h":39.09,"v":0.00042},{"s":"Odour Monitor 10","h":39.85,"v":0},{"s":"Odour Monitor 10","h":41.36,"v":0.00021},{"s":"Odour Monitor 10","h":42.88,"v":0},{"s":"Odour Monitor 10","h":43.64,"v":0.00053},{"s":"Odour Monitor 10","h":44.2,"v":0.00074},{"s":"Odour Monitor 10","h":44.77,"v":0.00042},{"s":"Odour Monitor 10","h":45.53,"v":0.00117},{"s":"Odour Monitor 10","h":46.1,"v":0.00074},{"s":"Odour Monitor 10","h":47.05,"v":0.00096},{"s":"Odour Monitor 10","h":47.8,"v":0.00106},
{"s":"Odour Monitor 10","h":48.56,"v":0.00042},{"s":"Odour Monitor 10","h":49.7,"v":0.00021},{"s":"Odour Monitor 10","h":50.83,"v":0.00011},{"s":"Odour Monitor 10","h":51.97,"v":0},{"s":"Odour Monitor 10","h":53.11,"v":0.00011},{"s":"Odour Monitor 10","h":53.86,"v":0.00053},{"s":"Odour Monitor 10","h":54.62,"v":0.00138},{"s":"Odour Monitor 10","h":55.38,"v":0.00159},{"s":"Odour Monitor 10","h":56.52,"v":0.0018},{"s":"Odour Monitor 10","h":57.65,"v":0.00191},{"s":"Odour Monitor 10","h":58.79,"v":0.00202},{"s":"Odour Monitor 10","h":59.55,"v":0.00138},{"s":"Odour Monitor 10","h":60.11,"v":0},{"s":"Odour Monitor 10","h":61.06,"v":0.00021},{"s":"Odour Monitor 10","h":61.82,"v":0.00021},{"s":"Odour Monitor 10","h":62.58,"v":0.00096},{"s":"Odour Monitor 10","h":63.33,"v":0.00106},{"s":"Odour Monitor 10","h":64.09,"v":0.00159},{"s":"Odour Monitor 10","h":65.23,"v":0.00191},{"s":"Odour Monitor 10","h":66.36,"v":0.00212},{"s":"Odour Monitor 10","h":67.12,"v":0.00234},{"s":"Odour Monitor 10","h":68.26,"v":0.00308},{"s":"Odour Monitor 10","h":69.02,"v":0.00265},{"s":"Odour Monitor 10","h":69.77,"v":0.00255},{"s":"Odour Monitor 10","h":70.53,"v":0.00212},{"s":"Odour Monitor 10","h":71.29,"v":0.00202},
{"s":"Odour Monitor 10","h":72.42,"v":0.00159},{"s":"Odour Monitor 10","h":73.18,"v":0.00138},{"s":"Odour Monitor 10","h":73.94,"v":0.00159},{"s":"Odour Monitor 10","h":74.32,"v":0.00265},{"s":"Odour Monitor 10","h":74.7,"v":0.00191},{"s":"Odour Monitor 10","h":75.45,"v":0.0018},{"s":"Odour Monitor 10","h":76.21,"v":0.00138},{"s":"Odour Monitor 10","h":76.97,"v":0.00138},{"s":"Odour Monitor 10","h":77.73,"v":0.00212},{"s":"Odour Monitor 10","h":78.48,"v":0.00223},{"s":"Odour Monitor 10","h":79.24,"v":0.00202},{"s":"Odour Monitor 10","h":80,"v":0.00223},{"s":"Odour Monitor 10","h":80.76,"v":0.00202},{"s":"Odour Monitor 10","h":81.52,"v":0.00223},{"s":"Odour Monitor 10","h":82.65,"v":0.00212},{"s":"Odour Monitor 10","h":83.79,"v":0.00223},{"s":"Odour Monitor 10","h":84.55,"v":0.00202},{"s":"Odour Monitor 10","h":85.3,"v":0.00223},{"s":"Odour Monitor 10","h":86.06,"v":0.00212},{"s":"Odour Monitor 10","h":86.82,"v":0.00223},{"s":"Odour Monitor 10","h":87.58,"v":0.00265},{"s":"Odour Monitor 10","h":88.14,"v":0.00297},{"s":"Odour Monitor 10","h":88.71,"v":0.00276},{"s":"Odour Monitor 10","h":89.47,"v":0.00308},{"s":"Odour Monitor 10","h":90.42,"v":0.00361},{"s":"Odour Monitor 10","h":90.98,"v":0.00265},{"s":"Odour Monitor 10","h":91.74,"v":0.00223},{"s":"Odour Monitor 10","h":92.69,"v":0.00223},{"s":"Odour Monitor 10","h":93.26,"v":0.00265},{"s":"Odour Monitor 10","h":94.02,"v":0.00234},{"s":"Odour Monitor 10","h":94.77,"v":0.00223},
{"s":"Odour Monitor 10","h":95.53,"v":0.00202},{"s":"Odour Monitor 10","h":97.05,"v":0.00202},{"s":"Odour Monitor 10","h":98.56,"v":0.00202},{"s":"Odour Monitor 10","h":100.08,"v":0.0018},{"s":"Odour Monitor 10","h":101.21,"v":0.00159},{"s":"Odour Monitor 10","h":101.78,"v":0.00096},{"s":"Odour Monitor 10","h":102.35,"v":0.0018},{"s":"Odour Monitor 10","h":103.48,"v":0.00202},{"s":"Odour Monitor 10","h":104.62,"v":0.00159},{"s":"Odour Monitor 10","h":105.76,"v":0.00202},{"s":"Odour Monitor 10","h":106.52,"v":0.00127},{"s":"Odour Monitor 10","h":107.08,"v":0.00202},{"s":"Odour Monitor 10","h":107.65,"v":0.00117},{"s":"Odour Monitor 10","h":108.22,"v":0.00053},{"s":"Odour Monitor 10","h":108.79,"v":0.00106},{"s":"Odour Monitor 10","h":109.92,"v":0.00096},{"s":"Odour Monitor 10","h":111.44,"v":0.00106},{"s":"Odour Monitor 10","h":112.95,"v":0.00117},{"s":"Odour Monitor 10","h":114.09,"v":0.00202},{"s":"Odour Monitor 10","h":115.23,"v":0.00202},{"s":"Odour Monitor 10","h":115.98,"v":0.0017},{"s":"Odour Monitor 10","h":117.5,"v":0.00202},{"s":"Odour Monitor 10","h":118.64,"v":0.00202},
{"s":"Odour Monitor 10","h":119.77,"v":0.00138},{"s":"Odour Monitor 10","h":120.91,"v":0.00159},{"s":"Odour Monitor 10","h":122.05,"v":0.00138},{"s":"Odour Monitor 10","h":122.8,"v":0.00096},{"s":"Odour Monitor 10","h":123.56,"v":0.00096},{"s":"Odour Monitor 10","h":124.7,"v":0.00042},{"s":"Odour Monitor 10","h":125.27,"v":0.00117},{"s":"Odour Monitor 10","h":125.83,"v":0.00042},{"s":"Odour Monitor 10","h":126.21,"v":0.00117},{"s":"Odour Monitor 10","h":126.78,"v":0.00096},{"s":"Odour Monitor 10","h":127.73,"v":0.00191},{"s":"Odour Monitor 10","h":128.3,"v":0.00085},{"s":"Odour Monitor 10","h":128.86,"v":0.0018},{"s":"Odour Monitor 10","h":129.62,"v":0.00096},{"s":"Odour Monitor 10","h":130.38,"v":0.00138},{"s":"Odour Monitor 10","h":131.52,"v":0.00096},{"s":"Odour Monitor 10","h":132.65,"v":0.00117},{"s":"Odour Monitor 10","h":133.6,"v":0.00096},{"s":"Odour Monitor 10","h":134.55,"v":0.00287},{"s":"Odour Monitor 10","h":135.3,"v":0.00212},{"s":"Odour Monitor 10","h":136.06,"v":0.00053},{"s":"Odour Monitor 10","h":136.82,"v":0.00021},{"s":"Odour Monitor 10","h":137.58,"v":0.00042},{"s":"Odour Monitor 10","h":138.33,"v":0.0018},{"s":"Odour Monitor 10","h":139.28,"v":0.0017},{"s":"Odour Monitor 10","h":140.42,"v":0.00011},{"s":"Odour Monitor 10","h":141.17,"v":0.0052},{"s":"Odour Monitor 10","h":141.74,"v":0.00478},{"s":"Odour Monitor 10","h":142.5,"v":0.00393},
{"s":"Odour Monitor 10","h":142.88,"v":0.00287},{"s":"Odour Monitor 10","h":143.26,"v":0.00223},{"s":"Odour Monitor 10","h":144.01,"v":0.00202},{"s":"Odour Monitor 10","h":144.77,"v":0.00191},{"s":"Odour Monitor 10","h":145.53,"v":0.0017},{"s":"Odour Monitor 10","h":146.29,"v":0.00202},{"s":"Odour Monitor 10","h":147.05,"v":0.0018},{"s":"Odour Monitor 10","h":147.8,"v":0.00159},{"s":"Odour Monitor 10","h":148.94,"v":0.00138},{"s":"Odour Monitor 10","h":149.7,"v":0.00127},{"s":"Odour Monitor 10","h":150.45,"v":0.0017},{"s":"Odour Monitor 10","h":151.02,"v":0.00138},{"s":"Odour Monitor 10","h":151.59,"v":0.00223},{"s":"Odour Monitor 10","h":152.35,"v":0.0018},{"s":"Odour Monitor 10","h":152.92,"v":0.00138},{"s":"Odour Monitor 10","h":153.48,"v":0.00223},{"s":"Odour Monitor 10","h":154.24,"v":0.00234},{"s":"Odour Monitor 10","h":155,"v":0.00329},{"s":"Odour Monitor 10","h":155.57,"v":0.0018},{"s":"Odour Monitor 10","h":156.14,"v":0.00074},{"s":"Odour Monitor 10","h":156.52,"v":0.00064},{"s":"Odour Monitor 10","h":157.08,"v":0.00117},{"s":"Odour Monitor 10","h":157.65,"v":0.00223},{"s":"Odour Monitor 10","h":158.22,"v":0.00159},{"s":"Odour Monitor 10","h":158.79,"v":0.0069},{"s":"Odour Monitor 10","h":159.73,"v":0.00945},{"s":"Odour Monitor 10","h":160.11,"v":0.00924},{"s":"Odour Monitor 10","h":160.68,"v":0.00839},{"s":"Odour Monitor 10","h":161.25,"v":0.00754},{"s":"Odour Monitor 10","h":162.01,"v":0.00626},{"s":"Odour Monitor 10","h":162.58,"v":0.0035},{"s":"Odour Monitor 10","h":162.95,"v":0.0086},{"s":"Odour Monitor 10","h":163.33,"v":0.00329},{"s":"Odour Monitor 10","h":163.9,"v":0.00478},{"s":"Odour Monitor 10","h":164.47,"v":0.00605},{"s":"Odour Monitor 10","h":164.85,"v":0.00435},{"s":"Odour Monitor 10","h":165.42,"v":0.00732},{"s":"Odour Monitor 10","h":166.17,"v":0.00775},{"s":"Odour Monitor 10","h":166.74,"v":0.00605},{"s":"Odour Monitor 10","h":167.12,"v":0.00775},{"s":"Odour Monitor 10","h":167.69,"v":0.00605},{"s":"Odour Monitor 10","h":168,"v":0.00563},
{"s":"Odour Monitor 11","h":0,"v":0.00202},{"s":"Odour Monitor 11","h":0.83,"v":0.00212},{"s":"Odour Monitor 11","h":1.97,"v":0.0018},{"s":"Odour Monitor 11","h":2.35,"v":0.00096},{"s":"Odour Monitor 11","h":3.11,"v":0.00138},{"s":"Odour Monitor 11","h":3.86,"v":0.00159},{"s":"Odour Monitor 11","h":5,"v":0.00202},{"s":"Odour Monitor 11","h":5.95,"v":0.00212},{"s":"Odour Monitor 11","h":6.7,"v":0.00223},{"s":"Odour Monitor 11","h":7.46,"v":0.00308},{"s":"Odour Monitor 11","h":8.03,"v":0.00329},{"s":"Odour Monitor 11","h":8.79,"v":0.00393},{"s":"Odour Monitor 11","h":9.36,"v":0.0035},{"s":"Odour Monitor 11","h":10.11,"v":0.00276},{"s":"Odour Monitor 11","h":10.68,"v":0.00308},{"s":"Odour Monitor 11","h":11.44,"v":0.00382},{"s":"Odour Monitor 11","h":12.01,"v":0.0035},{"s":"Odour Monitor 11","h":12.58,"v":0.00276},{"s":"Odour Monitor 11","h":13.33,"v":0.00393},{"s":"Odour Monitor 11","h":14.47,"v":0.00403},{"s":"Odour Monitor 11","h":15.98,"v":0.00414},{"s":"Odour Monitor 11","h":17.12,"v":0.00403},{"s":"Odour Monitor 11","h":17.88,"v":0.00382},{"s":"Odour Monitor 11","h":18.64,"v":0.00329},{"s":"Odour Monitor 11","h":19.02,"v":0.00393},{"s":"Odour Monitor 11","h":19.77,"v":0.00265},{"s":"Odour Monitor 11","h":20.53,"v":0.00223},{"s":"Odour Monitor 11","h":21.29,"v":0.00361},{"s":"Odour Monitor 11","h":22.05,"v":0.00308},{"s":"Odour Monitor 11","h":22.8,"v":0.00308},{"s":"Odour Monitor 11","h":23.56,"v":0.00255},
{"s":"Odour Monitor 11","h":23.94,"v":0.00223},{"s":"Odour Monitor 11","h":24.32,"v":0.00202},{"s":"Odour Monitor 11","h":25.08,"v":0.00265},{"s":"Odour Monitor 11","h":25.64,"v":0.00276},{"s":"Odour Monitor 11","h":26.21,"v":0.00202},{"s":"Odour Monitor 11","h":26.97,"v":0.00393},{"s":"Odour Monitor 11","h":27.91,"v":0.00397},{"s":"Odour Monitor 11","h":28.29,"v":0.00287},{"s":"Odour Monitor 11","h":28.86,"v":0.00361},{"s":"Odour Monitor 11","h":29.8,"v":0.00414},{"s":"Odour Monitor 11","h":30.57,"v":0.00393},{"s":"Odour Monitor 11","h":31.14,"v":0.00329},{"s":"Odour Monitor 11","h":31.89,"v":0.00372},{"s":"Odour Monitor 11","h":32.46,"v":0.00329},{"s":"Odour Monitor 11","h":33.03,"v":0.00361},{"s":"Odour Monitor 11","h":33.6,"v":0.00382},{"s":"Odour Monitor 11","h":34.55,"v":0.00403},{"s":"Odour Monitor 11","h":35.3,"v":0.00397},{"s":"Odour Monitor 11","h":36.44,"v":0.00414},{"s":"Odour Monitor 11","h":37.58,"v":0.00403},{"s":"Odour Monitor 11","h":38.33,"v":0.00414},{"s":"Odour Monitor 11","h":39.09,"v":0.00425},{"s":"Odour Monitor 11","h":40.23,"v":0.00499},{"s":"Odour Monitor 11","h":40.98,"v":0.00467},{"s":"Odour Monitor 11","h":41.74,"v":0.00393},{"s":"Odour Monitor 11","h":42.5,"v":0.00435},{"s":"Odour Monitor 11","h":43.26,"v":0.00467},{"s":"Odour Monitor 11","h":44.02,"v":0.00446},{"s":"Odour Monitor 11","h":44.77,"v":0.00414},{"s":"Odour Monitor 11","h":45.53,"v":0.00393},{"s":"Odour Monitor 11","h":46.29,"v":0.00318},{"s":"Odour Monitor 11","h":47.05,"v":0.0035},{"s":"Odour Monitor 11","h":48,"v":0.00382},
{"s":"Odour Monitor 11","h":48.18,"v":0.00403},{"s":"Odour Monitor 11","h":48.94,"v":0.0035},{"s":"Odour Monitor 11","h":49.32,"v":0.00372},{"s":"Odour Monitor 11","h":49.89,"v":0.00234},{"s":"Odour Monitor 11","h":50.45,"v":0.00265},{"s":"Odour Monitor 11","h":51.21,"v":0.00234},{"s":"Odour Monitor 11","h":51.78,"v":0.00276},{"s":"Odour Monitor 11","h":52.35,"v":0.00138},{"s":"Odour Monitor 11","h":52.92,"v":0.00202},{"s":"Odour Monitor 11","h":53.48,"v":0.00393},{"s":"Odour Monitor 11","h":54.62,"v":0.00425},{"s":"Odour Monitor 11","h":55.38,"v":0.00499},{"s":"Odour Monitor 11","h":56.7,"v":0.00605},{"s":"Odour Monitor 11","h":57.27,"v":0.00499},{"s":"Odour Monitor 11","h":58.03,"v":0.00488},{"s":"Odour Monitor 11","h":58.6,"v":0.00435},{"s":"Odour Monitor 11","h":59.36,"v":0.00435},{"s":"Odour Monitor 11","h":60.11,"v":0.00478},{"s":"Odour Monitor 11","h":60.87,"v":0.00488},{"s":"Odour Monitor 11","h":61.63,"v":0.00478},{"s":"Odour Monitor 11","h":62.2,"v":0.00541},{"s":"Odour Monitor 11","h":62.95,"v":0.00584},{"s":"Odour Monitor 11","h":63.71,"v":0.00679},{"s":"Odour Monitor 11","h":64.47,"v":0.0069},{"s":"Odour Monitor 11","h":65.23,"v":0.00637},{"s":"Odour Monitor 11","h":65.98,"v":0.00701},{"s":"Odour Monitor 11","h":66.74,"v":0.00679},{"s":"Odour Monitor 11","h":67.5,"v":0.00679},{"s":"Odour Monitor 11","h":68.26,"v":0.00563},{"s":"Odour Monitor 11","h":69.2,"v":0.00435},{"s":"Odour Monitor 11","h":69.96,"v":0.00393},{"s":"Odour Monitor 11","h":70.72,"v":0.0035},{"s":"Odour Monitor 11","h":71.29,"v":0.00265},
{"s":"Odour Monitor 11","h":72.05,"v":0.00361},{"s":"Odour Monitor 11","h":72.42,"v":0.00223},{"s":"Odour Monitor 11","h":72.99,"v":0.0018},{"s":"Odour Monitor 11","h":73.94,"v":0.00138},{"s":"Odour Monitor 11","h":74.7,"v":0.00149},{"s":"Odour Monitor 11","h":75.45,"v":0.00127},{"s":"Odour Monitor 11","h":76.21,"v":0.00096},{"s":"Odour Monitor 11","h":76.97,"v":0.00096},{"s":"Odour Monitor 11","h":77.73,"v":0.00159},{"s":"Odour Monitor 11","h":78.48,"v":0.00191},{"s":"Odour Monitor 11","h":79.24,"v":0.00191},{"s":"Odour Monitor 11","h":80,"v":0.00202},{"s":"Odour Monitor 11","h":80.57,"v":0.00223},{"s":"Odour Monitor 11","h":82.08,"v":0.00499},{"s":"Odour Monitor 11","h":82.65,"v":0.00456},{"s":"Odour Monitor 11","h":83.41,"v":0.00478},{"s":"Odour Monitor 11","h":84.17,"v":0.00594},{"s":"Odour Monitor 11","h":84.73,"v":0.00552},{"s":"Odour Monitor 11","h":85.3,"v":0.00594},{"s":"Odour Monitor 11","h":86.06,"v":0.00594},{"s":"Odour Monitor 11","h":86.82,"v":0.00584},{"s":"Odour Monitor 11","h":87.58,"v":0.00605},{"s":"Odour Monitor 11","h":88.14,"v":0.00584},{"s":"Odour Monitor 11","h":88.71,"v":0.00648},{"s":"Odour Monitor 11","h":89.47,"v":0.00775},{"s":"Odour Monitor 11","h":90.04,"v":0.00616},{"s":"Odour Monitor 11","h":90.8,"v":0.00754},{"s":"Odour Monitor 11","h":91.36,"v":0.0069},{"s":"Odour Monitor 11","h":91.93,"v":0.00701},{"s":"Odour Monitor 11","h":92.5,"v":0.00669},{"s":"Odour Monitor 11","h":93.26,"v":0.00637},{"s":"Odour Monitor 11","h":94.02,"v":0.0052},{"s":"Odour Monitor 11","h":94.58,"v":0.00414},{"s":"Odour Monitor 11","h":95.34,"v":0.00403},
{"s":"Odour Monitor 11","h":95.53,"v":0.00467},{"s":"Odour Monitor 11","h":96.67,"v":0.00403},{"s":"Odour Monitor 11","h":97.42,"v":0.00308},{"s":"Odour Monitor 11","h":98.56,"v":0.00223},{"s":"Odour Monitor 11","h":99.13,"v":0.00202},{"s":"Odour Monitor 11","h":99.7,"v":0.00138},{"s":"Odour Monitor 11","h":100.45,"v":0.00202},{"s":"Odour Monitor 11","h":101.21,"v":0.00191},{"s":"Odour Monitor 11","h":101.97,"v":0.00149},{"s":"Odour Monitor 11","h":102.73,"v":0.00223},{"s":"Odour Monitor 11","h":103.48,"v":0.00308},{"s":"Odour Monitor 11","h":104.24,"v":0.00329},{"s":"Odour Monitor 11","h":105,"v":0.00372},{"s":"Odour Monitor 11","h":105.76,"v":0.0034},{"s":"Odour Monitor 11","h":106.52,"v":0.00393},{"s":"Odour Monitor 11","h":107.27,"v":0.00414},{"s":"Odour Monitor 11","h":107.84,"v":0.00478},{"s":"Odour Monitor 11","h":108.41,"v":0.00414},{"s":"Odour Monitor 11","h":108.98,"v":0.00435},{"s":"Odour Monitor 11","h":109.92,"v":0.00499},{"s":"Odour Monitor 11","h":110.87,"v":0.00563},{"s":"Odour Monitor 11","h":111.63,"v":0.00732},{"s":"Odour Monitor 11","h":112.2,"v":0.0069},{"s":"Odour Monitor 11","h":112.58,"v":0.00584},{"s":"Odour Monitor 11","h":113.33,"v":0.00541},{"s":"Odour Monitor 11","h":114.09,"v":0.00594},{"s":"Odour Monitor 11","h":114.85,"v":0.00563},{"s":"Odour Monitor 11","h":115.61,"v":0.00541},{"s":"Odour Monitor 11","h":116.17,"v":0.00563},{"s":"Odour Monitor 11","h":116.74,"v":0.00393},{"s":"Odour Monitor 11","h":117.31,"v":0.0052},{"s":"Odour Monitor 11","h":117.88,"v":0.00372},{"s":"Odour Monitor 11","h":118.64,"v":0.00414},{"s":"Odour Monitor 11","h":119.58,"v":0.00456},
{"s":"Odour Monitor 11","h":120.15,"v":0.00393},{"s":"Odour Monitor 11","h":120.91,"v":0.00414},{"s":"Odour Monitor 11","h":121.67,"v":0.00382},{"s":"Odour Monitor 11","h":122.42,"v":0.00403},{"s":"Odour Monitor 11","h":123.18,"v":0.00446},{"s":"Odour Monitor 11","h":123.75,"v":0.00393},{"s":"Odour Monitor 11","h":124.51,"v":0.00403},{"s":"Odour Monitor 11","h":125.27,"v":0.00446},{"s":"Odour Monitor 11","h":125.64,"v":0.0035},{"s":"Odour Monitor 11","h":126.4,"v":0.00308},{"s":"Odour Monitor 11","h":126.78,"v":0.00372},{"s":"Odour Monitor 11","h":127.54,"v":0.00223},{"s":"Odour Monitor 11","h":128.67,"v":0.0035},{"s":"Odour Monitor 11","h":129.43,"v":0.00265},{"s":"Odour Monitor 11","h":129.81,"v":0.00223},{"s":"Odour Monitor 11","h":130.76,"v":0.0035},{"s":"Odour Monitor 11","h":131.33,"v":0.00329},{"s":"Odour Monitor 11","h":131.89,"v":0.00393},{"s":"Odour Monitor 11","h":132.65,"v":0.00435},{"s":"Odour Monitor 11","h":133.41,"v":0.00425},{"s":"Odour Monitor 11","h":134.17,"v":0.00456},{"s":"Odour Monitor 11","h":134.92,"v":0.00393},{"s":"Odour Monitor 11","h":136.06,"v":0.00456},{"s":"Odour Monitor 11","h":137.2,"v":0.00393},{"s":"Odour Monitor 11","h":138.33,"v":0.00403},{"s":"Odour Monitor 11","h":139.28,"v":0.00414},{"s":"Odour Monitor 11","h":140.23,"v":0.0052},{"s":"Odour Monitor 11","h":140.98,"v":0.00329},{"s":"Odour Monitor 11","h":142.12,"v":0.0034},{"s":"Odour Monitor 11","h":142.88,"v":0.00308},
{"s":"Odour Monitor 11","h":143.64,"v":0.00276},{"s":"Odour Monitor 11","h":144.39,"v":0.00265},{"s":"Odour Monitor 11","h":145.15,"v":0.00265},{"s":"Odour Monitor 11","h":145.91,"v":0.00244},{"s":"Odour Monitor 11","h":146.67,"v":0.00223},{"s":"Odour Monitor 11","h":147.42,"v":0.00212},{"s":"Odour Monitor 11","h":148.18,"v":0.00202},{"s":"Odour Monitor 11","h":148.94,"v":0.00191},{"s":"Odour Monitor 11","h":149.7,"v":0.00191},{"s":"Odour Monitor 11","h":150.45,"v":0.00202},{"s":"Odour Monitor 11","h":151.21,"v":0.0017},{"s":"Odour Monitor 11","h":151.97,"v":0.00212},{"s":"Odour Monitor 11","h":152.73,"v":0.00212},{"s":"Odour Monitor 11","h":153.3,"v":0.00276},{"s":"Odour Monitor 11","h":153.86,"v":0.00287},{"s":"Odour Monitor 11","h":154.24,"v":0.00318},{"s":"Odour Monitor 11","h":154.62,"v":0.00255},{"s":"Odour Monitor 11","h":155,"v":0.00308},{"s":"Odour Monitor 11","h":155.57,"v":0.00393},{"s":"Odour Monitor 11","h":156.33,"v":0.00478},{"s":"Odour Monitor 11","h":156.7,"v":0.00541},{"s":"Odour Monitor 11","h":157.27,"v":0.00605},{"s":"Odour Monitor 11","h":157.65,"v":0.00616},{"s":"Odour Monitor 11","h":158.03,"v":0.00796},{"s":"Odour Monitor 11","h":158.6,"v":0.00786},{"s":"Odour Monitor 11","h":159.36,"v":0.0069},{"s":"Odour Monitor 11","h":159.92,"v":0.0069},{"s":"Odour Monitor 11","h":160.3,"v":0.00648},{"s":"Odour Monitor 11","h":160.87,"v":0.00605},{"s":"Odour Monitor 11","h":161.44,"v":0.00584},{"s":"Odour Monitor 11","h":161.82,"v":0.0052},{"s":"Odour Monitor 11","h":162.39,"v":0.00478},{"s":"Odour Monitor 11","h":162.77,"v":0.00414},{"s":"Odour Monitor 11","h":163.33,"v":0.00403},{"s":"Odour Monitor 11","h":164.09,"v":0.00393},{"s":"Odour Monitor 11","h":164.85,"v":0.00372},{"s":"Odour Monitor 11","h":165.23,"v":0.00393},{"s":"Odour Monitor 11","h":165.8,"v":0.00361},{"s":"Odour Monitor 11","h":166.36,"v":0.00372},{"s":"Odour Monitor 11","h":166.93,"v":0.0034},{"s":"Odour Monitor 11","h":167.5,"v":0.00403},{"s":"Odour Monitor 11","h":168,"v":0.00393},
{"s":"Odour Monitor 12","h":0,"v":0.0002},{"s":"Odour Monitor 12","h":0.45,"v":0.00127},{"s":"Odour Monitor 12","h":1.21,"v":0.00127},{"s":"Odour Monitor 12","h":1.78,"v":0.00159},{"s":"Odour Monitor 12","h":2.16,"v":0.00053},{"s":"Odour Monitor 12","h":2.73,"v":0.00117},{"s":"Odour Monitor 12","h":3.48,"v":0.00138},{"s":"Odour Monitor 12","h":4.05,"v":0.00159},{"s":"Odour Monitor 12","h":4.81,"v":0.0018},{"s":"Odour Monitor 12","h":5.57,"v":0.00202},{"s":"Odour Monitor 12","h":6.52,"v":0.00202},{"s":"Odour Monitor 12","h":7.46,"v":0.00265},{"s":"Odour Monitor 12","h":8.41,"v":0.00287},{"s":"Odour Monitor 12","h":8.79,"v":0.00255},{"s":"Odour Monitor 12","h":9.36,"v":0.0035},{"s":"Odour Monitor 12","h":9.73,"v":0.00244},{"s":"Odour Monitor 12","h":10.68,"v":0.00202},{"s":"Odour Monitor 12","h":11.44,"v":0.0018},{"s":"Odour Monitor 12","h":12.2,"v":0.00244},{"s":"Odour Monitor 12","h":12.95,"v":0.00265},{"s":"Odour Monitor 12","h":13.52,"v":0.00382},{"s":"Odour Monitor 12","h":14.47,"v":0.00393},{"s":"Odour Monitor 12","h":15.04,"v":0.00425},{"s":"Odour Monitor 12","h":15.42,"v":0.00361},{"s":"Odour Monitor 12","h":15.8,"v":0.00446},{"s":"Odour Monitor 12","h":16.36,"v":0.0035},{"s":"Odour Monitor 12","h":16.93,"v":0.00393},{"s":"Odour Monitor 12","h":17.5,"v":0.00329},{"s":"Odour Monitor 12","h":18.07,"v":0.00393},{"s":"Odour Monitor 12","h":18.64,"v":0.00265},{"s":"Odour Monitor 12","h":19.39,"v":0.00223},{"s":"Odour Monitor 12","h":20.15,"v":0.00223},{"s":"Odour Monitor 12","h":20.91,"v":0.00297},{"s":"Odour Monitor 12","h":21.67,"v":0.00212},{"s":"Odour Monitor 12","h":22.8,"v":0.00202},{"s":"Odour Monitor 12","h":23.56,"v":0.00191},
{"s":"Odour Monitor 12","h":24.32,"v":0.0017},{"s":"Odour Monitor 12","h":25.45,"v":0.00202},{"s":"Odour Monitor 12","h":26.21,"v":0.00159},{"s":"Odour Monitor 12","h":26.97,"v":0.00223},{"s":"Odour Monitor 12","h":27.73,"v":0.00276},{"s":"Odour Monitor 12","h":28.48,"v":0.00234},{"s":"Odour Monitor 12","h":29.05,"v":0.00255},{"s":"Odour Monitor 12","h":29.62,"v":0.00308},{"s":"Odour Monitor 12","h":30.38,"v":0.00244},{"s":"Odour Monitor 12","h":31.14,"v":0.00234},{"s":"Odour Monitor 12","h":31.89,"v":0.00223},{"s":"Odour Monitor 12","h":32.65,"v":0.00202},{"s":"Odour Monitor 12","h":33.41,"v":0.00223},{"s":"Odour Monitor 12","h":33.98,"v":0.00212},{"s":"Odour Monitor 12","h":34.55,"v":0.00403},{"s":"Odour Monitor 12","h":35.3,"v":0.0034},{"s":"Odour Monitor 12","h":35.87,"v":0.00393},{"s":"Odour Monitor 12","h":36.25,"v":0.00361},{"s":"Odour Monitor 12","h":37.01,"v":0.00435},{"s":"Odour Monitor 12","h":37.77,"v":0.00372},{"s":"Odour Monitor 12","h":38.71,"v":0.0035},{"s":"Odour Monitor 12","h":39.47,"v":0.00308},{"s":"Odour Monitor 12","h":40.23,"v":0.00372},{"s":"Odour Monitor 12","h":40.61,"v":0.00435},{"s":"Odour Monitor 12","h":41.17,"v":0.00372},{"s":"Odour Monitor 12","h":41.74,"v":0.00382},{"s":"Odour Monitor 12","h":42.31,"v":0.0035},{"s":"Odour Monitor 12","h":42.88,"v":0.00393},{"s":"Odour Monitor 12","h":43.64,"v":0.00308},{"s":"Odour Monitor 12","h":44.39,"v":0.00297},{"s":"Odour Monitor 12","h":45.15,"v":0.00318},{"s":"Odour Monitor 12","h":45.91,"v":0.00276},{"s":"Odour Monitor 12","h":46.29,"v":0.00308},{"s":"Odour Monitor 12","h":46.67,"v":0.00234},{"s":"Odour Monitor 12","h":47.23,"v":0.00212},{"s":"Odour Monitor 12","h":47.8,"v":0.00159},
{"s":"Odour Monitor 12","h":48.56,"v":0.00202},{"s":"Odour Monitor 12","h":49.32,"v":0.00191},{"s":"Odour Monitor 12","h":50.45,"v":0.00202},{"s":"Odour Monitor 12","h":51.59,"v":0.0035},{"s":"Odour Monitor 12","h":52.35,"v":0.00149},{"s":"Odour Monitor 12","h":52.92,"v":0.0017},{"s":"Odour Monitor 12","h":53.48,"v":0.00372},{"s":"Odour Monitor 12","h":54.24,"v":0.00456},{"s":"Odour Monitor 12","h":55,"v":0.00382},{"s":"Odour Monitor 12","h":55.95,"v":0.00499},{"s":"Odour Monitor 12","h":56.7,"v":0.00499},{"s":"Odour Monitor 12","h":57.27,"v":0.00456},{"s":"Odour Monitor 12","h":58.03,"v":0.00499},{"s":"Odour Monitor 12","h":58.79,"v":0.00435},{"s":"Odour Monitor 12","h":59.36,"v":0.0051},{"s":"Odour Monitor 12","h":59.55,"v":0.00403},{"s":"Odour Monitor 12","h":60.11,"v":0.00478},{"s":"Odour Monitor 12","h":61.06,"v":0.00499},{"s":"Odour Monitor 12","h":61.82,"v":0.00499},{"s":"Odour Monitor 12","h":62.58,"v":0.00372},{"s":"Odour Monitor 12","h":63.14,"v":0.00223},{"s":"Odour Monitor 12","h":63.71,"v":0.00191},{"s":"Odour Monitor 12","h":64.47,"v":0.00212},{"s":"Odour Monitor 12","h":65.23,"v":0.00223},{"s":"Odour Monitor 12","h":65.8,"v":0.00329},{"s":"Odour Monitor 12","h":66.36,"v":0.00488},{"s":"Odour Monitor 12","h":67.12,"v":0.00499},{"s":"Odour Monitor 12","h":67.88,"v":0.00499},{"s":"Odour Monitor 12","h":68.64,"v":0.00488},{"s":"Odour Monitor 12","h":69.2,"v":0.00435},{"s":"Odour Monitor 12","h":69.77,"v":0.00329},{"s":"Odour Monitor 12","h":70.53,"v":0.00244},{"s":"Odour Monitor 12","h":70.91,"v":0.00329},{"s":"Odour Monitor 12","h":71.48,"v":0.00255},
{"s":"Odour Monitor 12","h":71.86,"v":0.00329},{"s":"Odour Monitor 12","h":72.42,"v":0.00202},{"s":"Odour Monitor 12","h":73.18,"v":0.0018},{"s":"Odour Monitor 12","h":73.94,"v":0.00159},{"s":"Odour Monitor 12","h":74.7,"v":0.00127},{"s":"Odour Monitor 12","h":75.45,"v":0.00117},{"s":"Odour Monitor 12","h":76.21,"v":0.00074},{"s":"Odour Monitor 12","h":76.59,"v":0.00042},{"s":"Odour Monitor 12","h":76.97,"v":0.00074},{"s":"Odour Monitor 12","h":77.16,"v":0.00042},{"s":"Odour Monitor 12","h":77.73,"v":0.00117},{"s":"Odour Monitor 12","h":78.48,"v":0.0017},{"s":"Odour Monitor 12","h":79.62,"v":0.0018},{"s":"Odour Monitor 12","h":80.57,"v":0.00202},{"s":"Odour Monitor 12","h":81.33,"v":0.00202},{"s":"Odour Monitor 12","h":82.27,"v":0.0034},{"s":"Odour Monitor 12","h":82.84,"v":0.00223},{"s":"Odour Monitor 12","h":83.41,"v":0.00287},{"s":"Odour Monitor 12","h":84.36,"v":0.00435},{"s":"Odour Monitor 12","h":85.11,"v":0.00435},{"s":"Odour Monitor 12","h":85.68,"v":0.00478},{"s":"Odour Monitor 12","h":86.25,"v":0.00265},{"s":"Odour Monitor 12","h":86.82,"v":0.00265},{"s":"Odour Monitor 12","h":87.58,"v":0.0035},{"s":"Odour Monitor 12","h":88.52,"v":0.00616},{"s":"Odour Monitor 12","h":89.47,"v":0.00478},{"s":"Odour Monitor 12","h":90.04,"v":0.00563},{"s":"Odour Monitor 12","h":90.98,"v":0.00669},{"s":"Odour Monitor 12","h":91.74,"v":0.00679},{"s":"Odour Monitor 12","h":92.5,"v":0.00605},{"s":"Odour Monitor 12","h":93.26,"v":0.00616},{"s":"Odour Monitor 12","h":94.02,"v":0.00499},{"s":"Odour Monitor 12","h":94.77,"v":0.00499},{"s":"Odour Monitor 12","h":95.34,"v":0.00414},
{"s":"Odour Monitor 12","h":95.9,"v":0.00446},{"s":"Odour Monitor 12","h":96.48,"v":0.00361},{"s":"Odour Monitor 12","h":97.05,"v":0.0034},{"s":"Odour Monitor 12","h":98.18,"v":0.00223},{"s":"Odour Monitor 12","h":99.32,"v":0.00159},{"s":"Odour Monitor 12","h":99.89,"v":0.00138},{"s":"Odour Monitor 12","h":100.64,"v":0.00265},{"s":"Odour Monitor 12","h":101.21,"v":0.0017},{"s":"Odour Monitor 12","h":101.78,"v":0.00223},{"s":"Odour Monitor 12","h":102.54,"v":0.00202},{"s":"Odour Monitor 12","h":103.11,"v":0.00223},{"s":"Odour Monitor 12","h":104.24,"v":0.00382},{"s":"Odour Monitor 12","h":104.81,"v":0.00329},{"s":"Odour Monitor 12","h":105.57,"v":0.00414},{"s":"Odour Monitor 12","h":106.14,"v":0.00265},{"s":"Odour Monitor 12","h":106.7,"v":0.00202},{"s":"Odour Monitor 12","h":107.27,"v":0.00287},{"s":"Odour Monitor 12","h":107.84,"v":0.00382},{"s":"Odour Monitor 12","h":108.41,"v":0.00435},{"s":"Odour Monitor 12","h":108.98,"v":0.00361},{"s":"Odour Monitor 12","h":109.73,"v":0.00393},{"s":"Odour Monitor 12","h":110.68,"v":0.00308},{"s":"Odour Monitor 12","h":111.44,"v":0.00318},{"s":"Odour Monitor 12","h":112.2,"v":0.00393},{"s":"Odour Monitor 12","h":113.14,"v":0.0051},{"s":"Odour Monitor 12","h":113.71,"v":0.00456},{"s":"Odour Monitor 12","h":114.47,"v":0.00563},{"s":"Odour Monitor 12","h":115.23,"v":0.00478},{"s":"Odour Monitor 12","h":115.8,"v":0.00467},{"s":"Odour Monitor 12","h":116.36,"v":0.00372},{"s":"Odour Monitor 12","h":117.12,"v":0.00467},{"s":"Odour Monitor 12","h":117.88,"v":0.0035},{"s":"Odour Monitor 12","h":118.83,"v":0.00234},{"s":"Odour Monitor 12","h":119.4,"v":0.0038},
{"s":"Odour Monitor 12","h":120.15,"v":0.00223},{"s":"Odour Monitor 12","h":121.29,"v":0.00212},{"s":"Odour Monitor 12","h":122.42,"v":0.00234},{"s":"Odour Monitor 12","h":123.18,"v":0.00244},{"s":"Odour Monitor 12","h":123.94,"v":0.00265},{"s":"Odour Monitor 12","h":124.7,"v":0.00223},{"s":"Odour Monitor 12","h":125.45,"v":0.0018},{"s":"Odour Monitor 12","h":126.21,"v":0.00202},{"s":"Odour Monitor 12","h":127.35,"v":0.00202},{"s":"Odour Monitor 12","h":128.48,"v":0.00191},{"s":"Odour Monitor 12","h":129.62,"v":0.0017},{"s":"Odour Monitor 12","h":130.38,"v":0.00308},{"s":"Odour Monitor 12","h":131.14,"v":0.0035},{"s":"Odour Monitor 12","h":131.7,"v":0.00329},{"s":"Odour Monitor 12","h":132.65,"v":0.0035},{"s":"Odour Monitor 12","h":133.03,"v":0.00393},{"s":"Odour Monitor 12","h":133.6,"v":0.00287},{"s":"Odour Monitor 12","h":134.17,"v":0.00414},{"s":"Odour Monitor 12","h":134.92,"v":0.00318},{"s":"Odour Monitor 12","h":135.68,"v":0.00329},{"s":"Odour Monitor 12","h":136.44,"v":0.00393},{"s":"Odour Monitor 12","h":137.2,"v":0.0034},{"s":"Odour Monitor 12","h":137.77,"v":0.00393},{"s":"Odour Monitor 12","h":138.52,"v":0.00265},{"s":"Odour Monitor 12","h":139.28,"v":0.00372},{"s":"Odour Monitor 12","h":139.85,"v":0.00393},{"s":"Odour Monitor 12","h":140.42,"v":0.00244},{"s":"Odour Monitor 12","h":141.36,"v":0.00234},{"s":"Odour Monitor 12","h":142.5,"v":0.00234},{"s":"Odour Monitor 12","h":143.64,"v":0.00234},
{"s":"Odour Monitor 12","h":144.01,"v":0.00212},{"s":"Odour Monitor 12","h":144.58,"v":0.00244},{"s":"Odour Monitor 12","h":145.15,"v":0.00265},{"s":"Odour Monitor 12","h":145.72,"v":0.00212},{"s":"Odour Monitor 12","h":146.29,"v":0.00223},{"s":"Odour Monitor 12","h":147.05,"v":0.00223},{"s":"Odour Monitor 12","h":147.8,"v":0.00202},{"s":"Odour Monitor 12","h":148.56,"v":0.00212},{"s":"Odour Monitor 12","h":149.32,"v":0.00191},{"s":"Odour Monitor 12","h":150.08,"v":0.00202},{"s":"Odour Monitor 12","h":150.83,"v":0.00191},{"s":"Odour Monitor 12","h":152.35,"v":0.00191},{"s":"Odour Monitor 12","h":153.48,"v":0.00202},{"s":"Odour Monitor 12","h":154.24,"v":0.00202},{"s":"Odour Monitor 12","h":155,"v":0.00212},{"s":"Odour Monitor 12","h":155.76,"v":0.00223},{"s":"Odour Monitor 12","h":156.89,"v":0.00499},{"s":"Odour Monitor 12","h":157.27,"v":0.00499},{"s":"Odour Monitor 12","h":157.84,"v":0.00393},{"s":"Odour Monitor 12","h":158.6,"v":0.00159},{"s":"Odour Monitor 12","h":158.98,"v":0.00223},{"s":"Odour Monitor 12","h":159.55,"v":0.00159},{"s":"Odour Monitor 12","h":160.11,"v":0.0018},{"s":"Odour Monitor 12","h":160.87,"v":0.00191},{"s":"Odour Monitor 12","h":161.44,"v":0.00287},{"s":"Odour Monitor 12","h":161.82,"v":0.00308},{"s":"Odour Monitor 12","h":162.2,"v":0.00435},{"s":"Odour Monitor 12","h":162.77,"v":0.00435},{"s":"Odour Monitor 12","h":163.52,"v":0.00478},{"s":"Odour Monitor 12","h":164.28,"v":0.00414},{"s":"Odour Monitor 12","h":165.04,"v":0.00456},{"s":"Odour Monitor 12","h":165.42,"v":0.00446},{"s":"Odour Monitor 12","h":166.17,"v":0.00382},{"s":"Odour Monitor 12","h":166.74,"v":0.00297},{"s":"Odour Monitor 12","h":167.12,"v":0.00372},{"s":"Odour Monitor 12","h":167.5,"v":0.00329},{"s":"Odour Monitor 12","h":168,"v":0.00414},
{"s":"Odour Monitor 13","h":0,"v":0},{"s":"Odour Monitor 13","h":1.5,"v":0.0001},{"s":"Odour Monitor 13","h":2.2,"v":0},{"s":"Odour Monitor 13","h":6,"v":0},{"s":"Odour Monitor 13","h":6.5,"v":0.0001},{"s":"Odour Monitor 13","h":7.2,"v":0},{"s":"Odour Monitor 13","h":16,"v":0},{"s":"Odour Monitor 13","h":16.6,"v":0.0001},{"s":"Odour Monitor 13","h":17.2,"v":0},{"s":"Odour Monitor 13","h":24,"v":0},{"s":"Odour Monitor 13","h":25,"v":0.0001},{"s":"Odour Monitor 13","h":26,"v":0},{"s":"Odour Monitor 13","h":40,"v":0},{"s":"Odour Monitor 13","h":41,"v":0.0001},{"s":"Odour Monitor 13","h":42,"v":0},{"s":"Odour Monitor 13","h":58,"v":0},{"s":"Odour Monitor 13","h":58.6,"v":0.0003},{"s":"Odour Monitor 13","h":59.2,"v":0},{"s":"Odour Monitor 13","h":94,"v":0},{"s":"Odour Monitor 13","h":94.8,"v":0.0001},{"s":"Odour Monitor 13","h":95.6,"v":0},{"s":"Odour Monitor 13","h":114,"v":0},{"s":"Odour Monitor 13","h":114.8,"v":0.0001},{"s":"Odour Monitor 13","h":115.6,"v":0},{"s":"Odour Monitor 13","h":130,"v":0},{"s":"Odour Monitor 13","h":130.7,"v":0.0001},{"s":"Odour Monitor 13","h":131.4,"v":0},{"s":"Odour Monitor 13","h":160,"v":0},{"s":"Odour Monitor 13","h":160.6,"v":0.0001},{"s":"Odour Monitor 13","h":161.2,"v":0},{"s":"Odour Monitor 13","h":168,"v":0}
  ]},
  "mark": {"type": "line", "strokeWidth": 4.5, "clip": true},
  "encoding": {
    "x": {
      "field": "h", "type": "quantitative",
      "scale": {"domain": [0, 168], "nice": false, "zero": false},
      "axis": {
        "values": [0, 24, 48, 72, 96, 120, 144, 168],
        "labelExpr": "timeFormat(datetime(2009, 9, 4 + datum.value / 24), '%d-%b')",
        "title": null, "grid": true, "gridColor": "#c0c0c0", "gridWidth": 1,
        "domainColor": "#000000", "domainWidth": 1.5, "tickColor": "#000000", "tickWidth": 1.5, "tickSize": 12,
        "labelFont": "Liberation Sans", "labelFontSize": 37, "labelColor": "#000000", "labelPadding": 24,
        "labelFlush": false, "labelOverlap": false, "labelBound": false
      }
    },
    "y": {
      "field": "v", "type": "quantitative",
      "scale": {"domain": [0, 0.05], "nice": false},
      "axis": {
        "values": [0, 0.005, 0.01, 0.015, 0.02, 0.025, 0.03, 0.035, 0.04, 0.045, 0.05],
        "format": "~g", "title": null, "grid": true, "gridColor": "#404040", "gridWidth": 1.2,
        "domainColor": "#000000", "domainWidth": 1.5, "tickColor": "#000000", "tickWidth": 1.2, "tickSize": 11,
        "labelFont": "Liberation Sans", "labelFontSize": 37, "labelColor": "#000000", "labelPadding": 18
      }
    },
    "color": {
      "field": "s", "type": "nominal",
      "scale": {
        "domain": ["Odour Monitor 6", "Odour Monitor 7", "Odour Monitor 8", "Odour Monitor 9", "Odour Monitor 10", "Odour Monitor 11", "Odour Monitor 12", "Odour Monitor 13"],
        "range": ["#800080", "#99CC00", "#FF00FF", "#FF0000", "#99CCFF", "#0000FF", "#FFCC00", "#008080"]
      },
      "legend": {
        "title": null, "orient": "none", "legendX": 85, "legendY": 886, "direction": "horizontal", "columns": 4,
        "symbolType": "stroke", "symbolStrokeWidth": 4, "symbolSize": 2704,
        "labelFont": "Liberation Sans", "labelFontSize": 33, "labelColor": "#000000", "labelOffset": 8,
        "columnPadding": 4, "rowPadding": 0, "padding": 0, "labelLimit": 400
      }
    }
  }
}
